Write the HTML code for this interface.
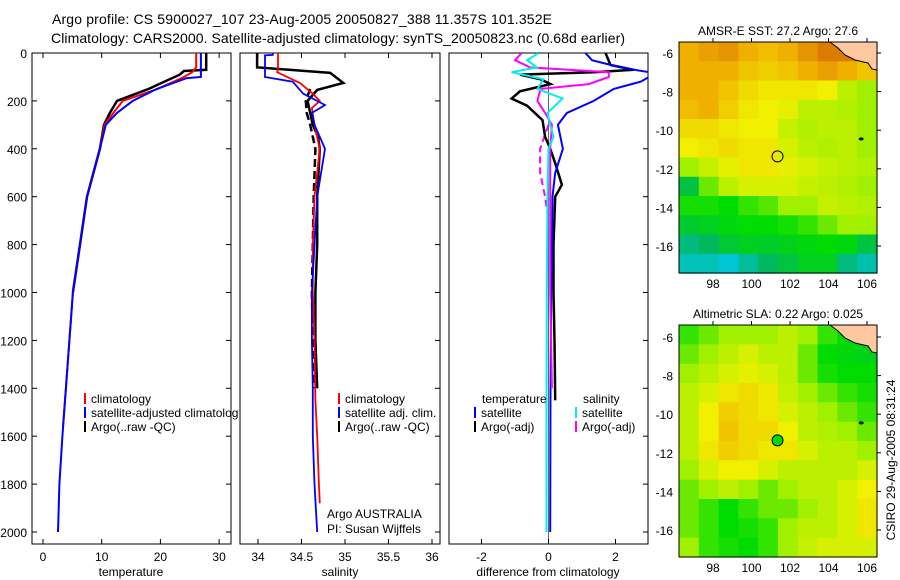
<!DOCTYPE html>
<html><head><meta charset="utf-8"><style>
body{margin:0;background:#fff;}
svg{display:block;font-family:"Liberation Sans",sans-serif;}
</style></head><body>
<svg id="fig" width="900" height="580" viewBox="0 0 900 580" xmlns="http://www.w3.org/2000/svg">
<rect width="900" height="580" fill="#fff"/>
<text x="52" y="24" font-size="14" textLength="500">Argo profile: CS 5900027_107 23-Aug-2005 20050827_388 11.357S 101.352E</text>
<text x="51" y="43" font-size="14" textLength="574">Climatology: CARS2000. Satellite-adjusted climatology: synTS_20050823.nc (0.68d earlier)</text>
<g id="layer"></g>
</svg>
<script>
// ---------- data ----------
const depthTicks = [0,200,400,600,800,1000,1200,1400,1600,1800,2000];
const tempTicks = [0,10,20,30];
const salTicks = [34,34.5,35,35.5,36];
const salTickLabels = ["34","34.5","35","35.5","36"];
const diffTicks = [-2,0,2];
// temperature profiles
const tClimDepth = [0,60,80,100,150,200,250,300,400,600,800,1000,1200,1400,1560];
const tClimVal   = [26.1,26.1,25.4,24,19.5,13.6,12,10.5,9.7,7.5,6.3,5.1,4.5,3.9,3.4];
const tSatDepth  = [0,100,105,150,200,250,300,400,600,800,1000,1200,1400,1600,1800,2000];
const tSatVal    = [26.9,26.9,24.5,19.4,15.3,12.6,10.7,9.7,7.5,6.3,5.1,4.5,3.9,3.3,2.8,2.55];
const tArgoDepth = [0,70,75,90,150,200,250,300,400,600,800,1000];
const tArgoVal   = [27.8,27.8,24,23.3,18,12.6,11.4,10.4,9.7,7.5,6.3,5.1];
// salinity profiles
const sClimDepth = [0,70,80,125,170,200,230,300,400,600,800,1000,1200,1450,1600,1800,1880];
const sClimVal   = [34.23,34.23,34.22,34.48,34.63,34.71,34.62,34.65,34.71,34.65,34.63,34.63,34.65,34.66,34.68,34.70,34.71];
const sSatDepth  = [0,8,10,100,120,170,217,250,300,400,600,800,1000,1200,1400,1600,1800,2000];
const sSatVal    = [34.17,34.17,34.08,34.08,34.4,34.52,34.77,34.62,34.65,34.77,34.68,34.65,34.62,34.62,34.63,34.63,34.65,34.68];
const sArgoDepth = [0,60,83,125,154,200,250,300,350,400,600,800,1000,1200,1400];
const sArgoVal   = [33.99,33.99,34.83,34.98,34.68,34.57,34.6,34.63,34.69,34.71,34.68,34.68,34.66,34.66,34.68];
const sArgo2Depth= [150,200,250,300,400,600,800,1000,1200,1400];
const sArgo2Val  = [34.6,34.55,34.56,34.6,34.66,34.64,34.63,34.62,34.63,34.65];
// difference profiles
const dTSatDepth = [0,30,60,80,100,120,150,200,250,300,400,500,600,800,1000,1400,2000];
const dTSatVal   = [1.1,1.3,2.15,3,3,2.75,1.95,1.35,0.55,0.28,0.43,0.2,0.12,0.1,0.08,0.06,0.05];
const dTArgoDepth= [0,50,70,80,90,110,130,160,190,220,280,350,400,460,550,600,800,1000,1200,1450];
const dTArgoVal  = [1.7,1.85,2.55,1.35,-0.85,-0.24,0.06,-0.85,-1.1,-0.64,-0.18,-0.1,0.05,0.2,0.4,0.2,0.15,0.15,0.18,0.2];
const dSSatDepth = [0,30,60,80,110,150,190,250,300,350,400,600,1000,1500,2000];
const dSSatVal   = [-0.3,-0.64,-0.35,-1.1,-0.15,-0.33,0.42,-0.03,0.05,0.15,0,-0.03,-0.05,-0.06,-0.06];
const dSArgoDepth= [0,30,60,80,100,130,150,200,250,300,400,600,1000,1400];
const dSArgoVal  = [-0.8,-1.0,-0.55,1.8,1.8,1.2,-0.24,-0.33,-0.1,0.1,0.05,0.05,0.05,0.1];
const dSArgo2Depth=[300,400,500,600,700];
const dSArgo2Val = [0,-0.25,-0.25,-0.1,0];
// maps
const latTicks = [-6,-8,-10,-12,-14,-16];
const lonTicks = [98,100,102,104,106];
const sstGrid = [
[.85,.88,.9,.85,.82,.85,.9,.95,.95,.9],
[.85,.85,.85,.8,.78,.8,.85,.88,.85,.8],
[.85,.85,.8,.75,.72,.72,.72,.7,.6,.55],
[.82,.85,.78,.72,.7,.68,.6,.6,.58,.55],
[.75,.75,.72,.7,.7,.62,.58,.6,.6,.55],
[.7,.72,.75,.72,.72,.65,.6,.58,.6,.55],
[.55,.62,.68,.72,.72,.68,.65,.62,.6,.58],
[.3,.5,.6,.65,.65,.65,.62,.6,.58,.55],
[.42,.42,.4,.45,.48,.55,.55,.62,.6,.58],
[.33,.35,.38,.4,.4,.42,.45,.5,.55,.55],
[.2,.25,.32,.35,.34,.36,.38,.4,.38,.3],
[.1,.1,.05,.15,.25,.3,.35,.35,.2,.12]];
const slaGrid = [
[.45,.5,.55,.55,.55,.6,.55,.45,.4,.38],
[.5,.55,.6,.65,.6,.6,.5,.4,.38,.36],
[.55,.6,.65,.68,.65,.6,.5,.42,.4,.4],
[.6,.65,.72,.75,.72,.62,.55,.5,.45,.42],
[.6,.7,.78,.75,.72,.65,.6,.55,.5,.45],
[.6,.7,.8,.75,.75,.7,.6,.58,.55,.5],
[.6,.72,.78,.75,.72,.72,.65,.6,.6,.55],
[.55,.65,.7,.7,.65,.6,.6,.6,.6,.65],
[.5,.55,.6,.55,.5,.55,.6,.6,.65,.7],
[.5,.45,.4,.45,.5,.5,.55,.6,.65,.72],
[.5,.45,.4,.42,.45,.55,.6,.6,.65,.72],
[.55,.45,.42,.4,.45,.55,.62,.65,.65,.65]];
const floatLon = 101.352, floatLat = -11.357;

// ---------- drawing ----------
const NS="http://www.w3.org/2000/svg";
const L=document.getElementById('layer');
function mk(tag,parent){const e=document.createElementNS(NS,tag);(parent||L).appendChild(e);return e;}
const TOP=53, BOT=544;
const yD=d=>TOP+d*0.2395;
const xT=v=>43+v*5.87;
const xS=v=>258+(v-34)*87;
const xDf=v=>548.5+v*33.5;
function poly(xs,ds,fx,color,w,dash,name,clipId){
  const p=mk('polyline');
  p.setAttribute('points',xs.map((d,i)=>fx(ds[i]).toFixed(1)+','+yD(d).toFixed(1)).join(' '));
  p.setAttribute('fill','none');p.setAttribute('stroke',color);p.setAttribute('stroke-width',w);
  if(dash)p.setAttribute('stroke-dasharray',dash);
  if(clipId)p.setAttribute('clip-path','url(#'+clipId+')');
  
  
}
const defs=mk('defs');
function clip(id,x,y,w,h){const c=mk('clipPath',defs);c.setAttribute('id',id);const r=mk('rect',c);r.setAttribute('x',x);r.setAttribute('y',y);r.setAttribute('width',w);r.setAttribute('height',h);}
function txt(x,y,s,anchor,size,name,color){const t=mk('text');t.setAttribute('x',x);t.setAttribute('y',y);t.setAttribute('font-size',size||12);if(anchor)t.setAttribute('text-anchor',anchor);if(color)t.setAttribute('fill',color);t.textContent=s;
  
  return t;}
function line(x1,y1,x2,y2,c,w,name){const l=mk('line');l.setAttribute('x1',x1);l.setAttribute('y1',y1);l.setAttribute('x2',x2);l.setAttribute('y2',y2);l.setAttribute('stroke',c);l.setAttribute('stroke-width',w);
  
  }
function frame(x0,x1,name){const r=mk('rect');r.setAttribute('x',x0);r.setAttribute('y',TOP);r.setAttribute('width',x1-x0);r.setAttribute('height',BOT-TOP);r.setAttribute('fill','none');r.setAttribute('stroke','#000');r.setAttribute('stroke-width',1);
  
  }
const panels=[[32,231,'temperature-panel'],[240,440,'salinity-panel'],[449,648,'difference-panel']];
panels.forEach((p,i)=>{frame(p[0],p[1],p[2]);clip('clip'+i,p[0],TOP,p[1]-p[0],BOT-TOP);
  depthTicks.forEach(d=>{line(p[1]-5,yD(d),p[1],yD(d),'#000',1,'depth-tick');if(i==0)line(p[0],yD(d),p[0]+5,yD(d),'#000',1,'depth-tick');});});
depthTicks.forEach(d=>txt(27,yD(d)+5,String(d),'end',12,'depth-tick-label'));
tempTicks.forEach(v=>{line(xT(v),TOP,xT(v),TOP+5,'#000',1,'temp-tick');line(xT(v),BOT,xT(v),BOT-5,'#000',1,'temp-tick');txt(xT(v),561,String(v),'middle',12,'temp-tick-label');});
salTicks.forEach((v,i)=>{line(xS(v),TOP,xS(v),TOP+5,'#000',1,'sal-tick');line(xS(v),BOT,xS(v),BOT-5,'#000',1,'sal-tick');txt(xS(v),561,salTickLabels[i],'middle',12,'sal-tick-label');});
diffTicks.forEach(v=>{line(xDf(v),TOP,xDf(v),TOP+5,'#000',1,'diff-tick');line(xDf(v),BOT,xDf(v),BOT-5,'#000',1,'diff-tick');txt(xDf(v),561,String(v),'middle',12,'diff-tick-label');});
txt(131,576,'temperature','middle',12,'x-axis-title-temperature');
txt(340,576,'salinity','middle',12,'x-axis-title-salinity');
txt(548,576,'difference from climatology','middle',12,'x-axis-title-difference');
// zero line dotted
line(xDf(0),TOP,xDf(0),BOT,'#000',0.6,'zero-line');
// temperature
poly(tArgoDepth,tArgoVal,xT,'#000',2.5,null,'temp-argo-line','clip0');
poly(tClimDepth,tClimVal,xT,'#f00',2,null,'temp-climatology-line','clip0');
poly(tSatDepth,tSatVal,xT,'#00f',2,null,'temp-satellite-line','clip0');
// salinity
poly(sArgo2Depth,sArgo2Val,xS,'#000',2.5,'8,4','sal-argo-raw-line','clip1');
poly(sArgoDepth,sArgoVal,xS,'#000',2.5,null,'sal-argo-line','clip1');
poly(sClimDepth,sClimVal,xS,'#f00',1.8,null,'sal-climatology-line','clip1');
poly(sSatDepth,sSatVal,xS,'#00f',1.8,null,'sal-satellite-line','clip1');
// differences
poly(dSArgo2Depth,dSArgo2Val,xDf,'#f0f',2,'7,4','diff-sal-argo-raw-line','clip2');
poly(dTArgoDepth,dTArgoVal,xDf,'#000',2.5,null,'diff-temp-argo-line','clip2');
poly(dTSatDepth,dTSatVal,xDf,'#00f',2,null,'diff-temp-satellite-line','clip2');
poly(dSArgoDepth,dSArgoVal,xDf,'#f0f',2,null,'diff-sal-argo-line','clip2');
poly(dSSatDepth,dSSatVal,xDf,'#0ee',2,null,'diff-sal-satellite-line','clip2');
// legends
function leg(x,y,c,s,name,clipId){line(x,y-10,x,y+1,c,2,name+'-swatch');const t=txt(x+6,y,s,null,12,name);if(clipId)t.setAttribute('clip-path','url(#'+clipId+')');}
clip('legclip',32,TOP,206,BOT-TOP);
leg(85,403,'#f00','climatology','legend-climatology');
leg(85,417,'#00f','satellite-adjusted climatology','legend-satellite-adjusted','legclip');
leg(85,431,'#000','Argo(..raw -QC)','legend-argo');
leg(339,403,'#f00','climatology','legend-sal-climatology');
leg(339,417,'#00f','satellite adj. clim.','legend-sal-satellite');
leg(339,431,'#000','Argo(..raw -QC)','legend-sal-argo');
txt(482,403,'temperature',null,12,'legend-temperature-heading');
txt(583,403,'salinity',null,12,'legend-salinity-heading');
leg(475,417,'#00f','satellite','legend-diff-temp-satellite');
leg(475,431,'#000','Argo(-adj)','legend-diff-temp-argo');
leg(576,417,'#0ee','satellite','legend-diff-sal-satellite');
leg(576,431,'#f0f','Argo(-adj)','legend-diff-sal-argo');
txt(327,518,'Argo AUSTRALIA',null,12,'institution-label');
txt(327,533,'PI: Susan Wijffels',null,12,'pi-label');
// maps
const stops=[[0,[0,200,240]],[.25,[0,184,96]],[.4,[0,220,0]],[.55,[160,240,0]],[.7,[240,240,0]],[.85,[240,176,0]],[1,[208,96,0]]];
function cmap(v){for(let i=1;i<stops.length;i++){if(v<=stops[i][0]){const a=stops[i-1],b=stops[i],t=(v-a[0])/(b[0]-a[0]);return 'rgb('+a[1].map((c,k)=>Math.round(c+(b[1][k]-c)*t)).join(',')+')';}}return 'rgb(208,96,0)';}
function drawMap(grid,top,bot,lat6,lat16,title,name,filled){
  const left=679,right=877;
  const g=mk('g');
  const rows=grid.length,cols=grid[0].length,cw=(right-left)/cols,ch=(bot-top)/rows;
  grid.forEach((row,r)=>row.forEach((v,c)=>{const e=mk('rect',g);e.setAttribute('x',(left+c*cw).toFixed(1));e.setAttribute('y',(top+r*ch).toFixed(1));e.setAttribute('width',(cw+0.6).toFixed(1));e.setAttribute('height',(ch+0.6).toFixed(1));e.setAttribute('fill',cmap(v));
    
    }));
  const lx=lon=>713+(lon-98)*19.25, ly=lat=>lat6+(-6-lat)*(lat16-lat6)/10;
  const land=mk('polygon',g);
  land.setAttribute('points',[[830,top],[right,top],[right,top+28],[872,top+27],[868,top+21],[855,top+18],[845,top+13],[838,top+6]].map(p=>p.join(',')).join(' '));
  land.setAttribute('fill','#ffc8a0');land.setAttribute('stroke','#000');land.setAttribute('stroke-width',1);
  
  
  const isl=mk('ellipse',g);isl.setAttribute('cx',lx(105.7));isl.setAttribute('cy',ly(-10.45));isl.setAttribute('rx',2.5);isl.setAttribute('ry',1.5);isl.setAttribute('fill','#000');
  
  
  const fr=mk('rect',g);fr.setAttribute('x',left);fr.setAttribute('y',top);fr.setAttribute('width',right-left);fr.setAttribute('height',bot-top);fr.setAttribute('fill','none');fr.setAttribute('stroke','#000');
  
  
  const c=mk('circle',g);c.setAttribute('cx',lx(floatLon));c.setAttribute('cy',ly(floatLat));c.setAttribute('r',5.5);c.setAttribute('fill',filled||'none');c.setAttribute('stroke','#000');c.setAttribute('stroke-width',1);
  
  
  latTicks.forEach(lat=>{line(right,ly(lat),right+4,ly(lat),'#000',1,'lat-tick');txt(673,ly(lat)+5,String(lat),'end',12,'lat-tick-label');});
  lonTicks.forEach(lon=>{line(lx(lon),top,lx(lon),top-4,'#000',1,'lon-tick');txt(lx(lon),bot+15,String(lon),'middle',12,'lon-tick-label');});
  txt(778,top-7,title,'middle',12,name+'-title');
}
drawMap(sstGrid,42,273,53,246,'AMSR-E SST: 27.2 Argo: 27.6','sst-map');
drawMap(slaGrid,325,557,337,530,'Altimetric SLA: 0.22 Argo: 0.025','sla-map','#00dc00');
const ts=txt(0,0,'CSIRO 29-Aug-2005 08:31:24','middle',12,'timestamp-label');
ts.setAttribute('transform','translate(895,460) rotate(-90)');
</script>
</body></html>
